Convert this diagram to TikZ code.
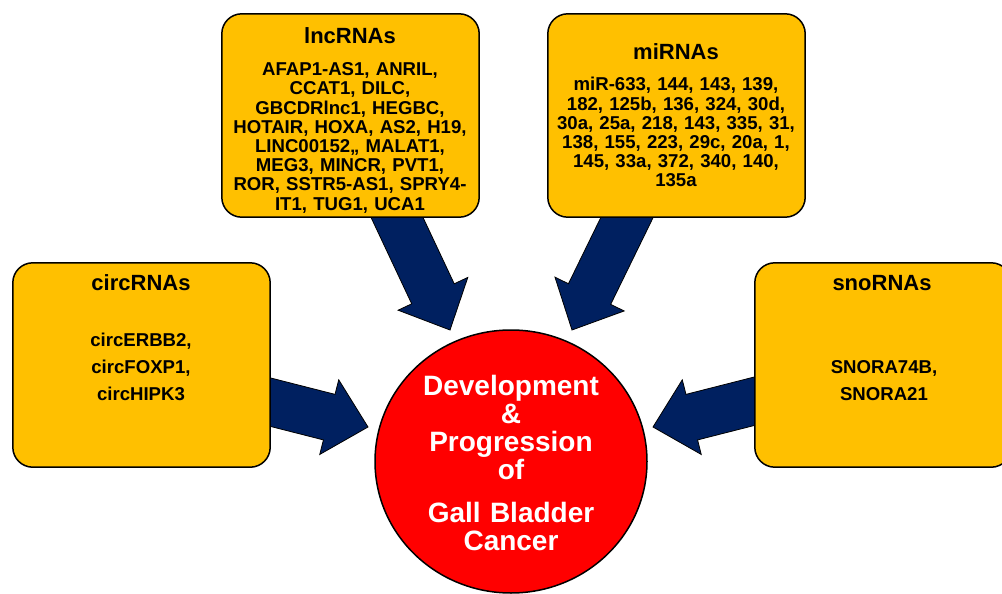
\documentclass[tikz,border=0pt]{standalone}
\usepackage{fontspec}
\setmainfont{Liberation Sans}
\usetikzlibrary{calc,shapes.geometric}
\definecolor{boxgold}{HTML}{FFC000}
\definecolor{arrnavy}{HTML}{002060}
\definecolor{gbred}{HTML}{FF0000}
\newcommand{\blkarrow}[2]{%
  \coordinate (#1-h) at ($(#2)!40pt!(#1)$);
  \filldraw[bigarrow] ($(#1)!23.5pt!90:(#2)$) -- ($(#1-h)!23.5pt!90:(#2)$) -- ($(#1-h)!38.5pt!90:(#2)$)
    -- (#2) -- ($(#1-h)!38.5pt!-90:(#2)$) -- ($(#1-h)!23.5pt!-90:(#2)$) -- ($(#1)!23.5pt!-90:(#2)$) -- cycle;}
\begin{document}
\begin{tikzpicture}[x=1pt,y=-1pt,
  rnabox/.style={draw=black, line width=1.5pt, fill=boxgold, rounded corners=20pt, inner sep=0pt},
  bigarrow/.style={draw=black, line width=0.8pt, fill=arrnavy, line join=miter},
  ttl/.style={font=\bfseries\fontsize{22}{24}\selectfont, inner sep=0pt, anchor=base},
  bodytxt/.style={font=\bfseries\fontsize{18.6}{19.2}\selectfont, align=center, text width=250pt, inner sep=0pt, anchor=base},
  circtxt/.style={font=\bfseries\fontsize{18.6}{26.7}\selectfont, align=center, text width=250pt, inner sep=0pt, anchor=base},
  gbctxt/.style={text=white, font=\bfseries\fontsize{28}{28.3}\selectfont, align=center, text width=260pt, inner sep=0pt, anchor=base}]
\useasboundingbox (0,0) rectangle (1002,594);
\fill[white] (0,0) rectangle (1002,594);

% box nodes (drawn later over arrow tails)
\path (350.5,115.5) node[minimum width=257pt, minimum height=203pt, inner sep=0pt] (lnc) {};
\path (676.5,115.5) node[minimum width=257pt, minimum height=203pt, inner sep=0pt] (mir) {};
\path (141.5,365) node[minimum width=257pt, minimum height=204pt, inner sep=0pt] (circ) {};
\path (883,365) node[minimum width=256pt, minimum height=204pt, inner sep=0pt] (sno) {};
\path (511,461.5) node[minimum width=272pt, minimum height=263pt, inner sep=0pt, ellipse] (gbc) {};

% arrow tails (inside the boxes) and tips (near the circle)
\coordinate (lncA) at ($(lnc.south)+(37,-20)$);
\coordinate (lncB) at (450,330);
\coordinate (mirA) at ($(mir.south)+(-39.6,-20)$);
\coordinate (mirB) at (572,330);
\coordinate (circA) at ($(circ.east)+(-24,31)$);
\coordinate (circB) at (368,427);
\coordinate (snoA) at ($(sno.west)+(24,30)$);
\coordinate (snoB) at (653,427);

\blkarrow{lncA}{lncB}
\blkarrow{mirA}{mirB}
\blkarrow{circA}{circB}
\blkarrow{snoA}{snoB}

% boxes
\draw[rnabox] (lnc.south west) rectangle (lnc.north east);
\draw[rnabox] (mir.south west) rectangle (mir.north east);
\draw[rnabox] (circ.south west) rectangle (circ.north east);
\draw[rnabox] (sno.south west) rectangle (sno.north east);
\draw[draw=black, line width=1.5pt, fill=gbred] (gbc.center) ellipse [x radius=136pt, y radius=131.5pt];

% texts
\node[ttl] (lncttl) at (350,43.3) {lncRNAs};
\node[bodytxt] (lncbody) at (350,75.7) {AFAP1-AS1, ANRIL,\\CCAT1, DILC,\\GBCDRlnc1, HEGBC,\\HOTAIR, HOXA, AS2, H19,\\LINC00152,, MALAT1,\\MEG3, MINCR, PVT1,\\ROR, SSTR5-AS1, SPRY4-\\IT1, TUG1, UCA1};
\node[ttl] (mirttl) at (676,60) {miRNAs};
\node[bodytxt] (mirbody) at (676,91) {miR-633, 144, 143, 139,\\182, 125b, 136, 324, 30d,\\30a, 25a, 218, 143, 335, 31,\\138, 155, 223, 29c, 20a, 1,\\145, 33a, 372, 340, 140,\\135a};
\node[ttl] (circttl) at (141,290) {circRNAs};
\node[circtxt] (circbody) at (141,346.7) {circERBB2,\\circFOXP1,\\circHIPK3};
\node[ttl] (snottl) at (882,290) {snoRNAs};
\node[circtxt] (snobody) at (884,373.3) {SNORA74B,\\SNORA21};
\node[gbctxt] (gbcbody) at (511,395) {Development\\\&\\Progression\\of\\[14pt]Gall Bladder\\Cancer};
\end{tikzpicture}
\end{document}
